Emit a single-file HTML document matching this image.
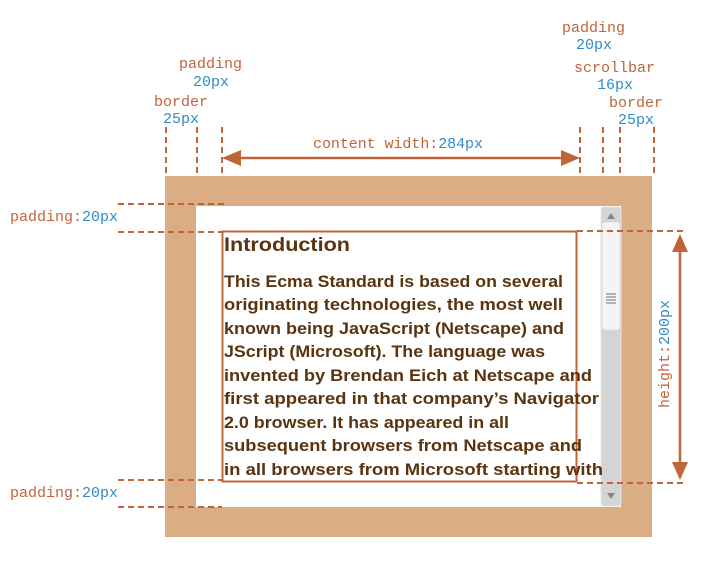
<!DOCTYPE html>
<html><head><meta charset="utf-8"><style>
html,body{margin:0;padding:0;background:#fff;width:710px;height:586px;overflow:hidden}
svg{display:block}
.m{font-family:"Liberation Mono",monospace;font-size:15px}
.o{fill:#c0643a}.b{fill:#2f8bc9}
.t{font-family:"Liberation Sans",sans-serif;font-weight:bold;fill:#5a3410}
</style></head><body>
<svg width="710" height="586" viewBox="0 0 710 586">
<rect x="165" y="176" width="487" height="361" fill="#dbad85"/>
<rect x="196" y="206" width="425" height="301" fill="#fff"/>
<g>
<rect x="601" y="207" width="20" height="299" rx="3" fill="#d4d4d4" stroke="#e4e4e4"/>
<rect x="602" y="222" width="18" height="108" rx="3" fill="#f4f4f4" stroke="#dcdcdc"/>
<path d="M607,219L611,213L615,219z" fill="#888"/>
<path d="M607,493L611,499L615,493z" fill="#888"/>
<g stroke="#888" stroke-width="1.2"><line x1="606" y1="294" x2="616" y2="294"/><line x1="606" y1="297" x2="616" y2="297"/><line x1="606" y1="300" x2="616" y2="300"/><line x1="606" y1="303" x2="616" y2="303"/></g>
</g>
<rect x="222.5" y="231.5" width="354" height="250" fill="none" stroke="#c0643a" stroke-width="2"/>
<g class="t">
<text x="224" y="251" font-size="19" textLength="126" lengthAdjust="spacingAndGlyphs">Introduction</text>
<g font-size="17">
<text x="224" y="287" textLength="339" lengthAdjust="spacingAndGlyphs">This Ecma Standard is based on several</text>
<text x="224" y="310" textLength="339" lengthAdjust="spacingAndGlyphs">originating technologies, the most well</text>
<text x="224" y="334" textLength="340" lengthAdjust="spacingAndGlyphs">known being JavaScript (Netscape) and</text>
<text x="224" y="357" textLength="321" lengthAdjust="spacingAndGlyphs">JScript (Microsoft). The language was</text>
<text x="224" y="381" textLength="368" lengthAdjust="spacingAndGlyphs">invented by Brendan Eich at Netscape and</text>
<text x="224" y="404" textLength="375" lengthAdjust="spacingAndGlyphs">first appeared in that company’s Navigator</text>
<text x="224" y="428" textLength="285" lengthAdjust="spacingAndGlyphs">2.0 browser. It has appeared in all</text>
<text x="224" y="451" textLength="358" lengthAdjust="spacingAndGlyphs">subsequent browsers from Netscape and</text>
<text x="224" y="475" textLength="379" lengthAdjust="spacingAndGlyphs">in all browsers from Microsoft starting with</text>
</g></g>
<g stroke="#c0643a" stroke-width="2" stroke-dasharray="6,4" fill="none">
<line x1="166" y1="127" x2="166" y2="176"/><line x1="197" y1="127" x2="197" y2="176"/><line x1="222" y1="127" x2="222" y2="176"/>
<line x1="580" y1="127" x2="580" y2="176"/><line x1="603" y1="127" x2="603" y2="176"/><line x1="620" y1="127" x2="620" y2="176"/><line x1="654" y1="127" x2="654" y2="176"/>
<line x1="118" y1="204" x2="225" y2="204"/><line x1="118" y1="232" x2="222" y2="232"/>
<line x1="118" y1="480" x2="222" y2="480"/><line x1="118" y1="507" x2="222" y2="507"/>
<line x1="577" y1="231" x2="686" y2="231"/><line x1="577" y1="483" x2="686" y2="483"/>
</g>
<line x1="238" y1="158" x2="566" y2="158" stroke="#c0643a" stroke-width="2.5"/>
<path d="M222,158L241,150L241,166z" fill="#c0643a"/><path d="M580,158L561,150L561,166z" fill="#c0643a"/>
<line x1="680" y1="248" x2="680" y2="466" stroke="#c0643a" stroke-width="2.5"/>
<path d="M680,234L672,252L688,252z" fill="#c0643a"/><path d="M680,480L672,462L688,462z" fill="#c0643a"/>
<g class="m">
<text x="313" y="148" textLength="170"><tspan class="o">content width:</tspan><tspan class="b">284px</tspan></text>
<text x="179" y="68" class="o">padding</text>
<text x="193" y="86" class="b">20px</text>
<text x="154" y="106" class="o">border</text>
<text x="163" y="123" class="b">25px</text>
<text x="562" y="32" class="o">padding</text>
<text x="576" y="49" class="b">20px</text>
<text x="574" y="72" class="o">scrollbar</text>
<text x="597" y="89" class="b">16px</text>
<text x="609" y="107" class="o">border</text>
<text x="618" y="124" class="b">25px</text>
<text x="10" y="221"><tspan class="o">padding:</tspan><tspan class="b">20px</tspan></text>
<text x="10" y="497"><tspan class="o">padding:</tspan><tspan class="b">20px</tspan></text>
<text transform="translate(669,408) rotate(-90)"><tspan class="o">height:</tspan><tspan class="b">200px</tspan></text>
</g>
</svg>
</body></html>
